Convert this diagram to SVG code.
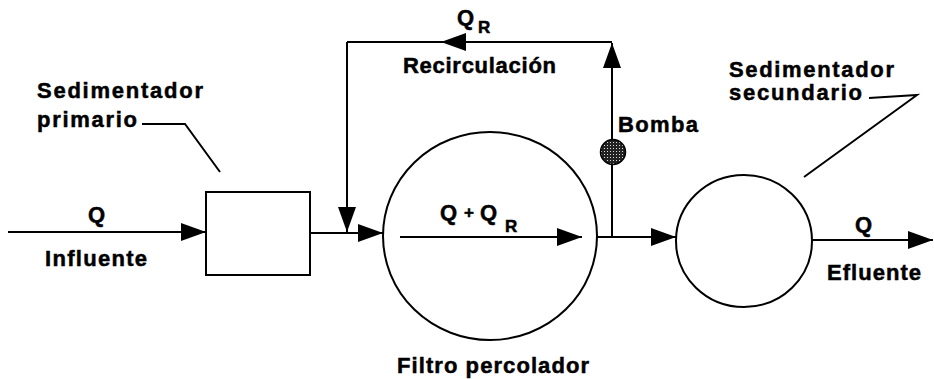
<svg xmlns="http://www.w3.org/2000/svg" width="934" height="379" viewBox="0 0 934 379">
<defs>
<style>
.ln{fill:none;stroke:#000;stroke-width:2}
.sh{fill:#fff;stroke:#000;stroke-width:2}
.t{font-family:"Liberation Sans",Arial,sans-serif;font-weight:bold;font-size:22px;fill:#000;stroke:#000;stroke-width:0.5}
.s{font-size:17px}
</style>
<marker id="ah" markerUnits="userSpaceOnUse" markerWidth="26" markerHeight="20" refX="25" refY="9" orient="auto">
<path d="M0,0 L25,9 L0,18 Z" fill="#000"/>
</marker>
<pattern id="dots" width="3" height="3" patternUnits="userSpaceOnUse">
<rect width="3" height="3" fill="#222"/>
<rect x="1" y="1" width="1" height="1" fill="#ddd"/>
</pattern>
</defs>
<rect width="934" height="379" fill="#fff"/>
<g id="connectors">
<line class="ln" x1="8" y1="232" x2="206" y2="232" marker-end="url(#ah)"/>
<line class="ln" x1="310" y1="233" x2="383" y2="233" marker-end="url(#ah)"/>
<line class="ln" x1="347" y1="42" x2="347" y2="232" marker-end="url(#ah)"/>
<line class="ln" x1="612" y1="42" x2="347" y2="42"/>
<line class="ln" x1="612" y1="42" x2="441" y2="42" marker-end="url(#ah)"/>
<line class="ln" x1="612" y1="237" x2="612" y2="43" marker-end="url(#ah)"/>
<line class="ln" x1="400" y1="237" x2="582" y2="237" marker-end="url(#ah)"/>
<line class="ln" x1="596" y1="237" x2="676" y2="237" marker-end="url(#ah)"/>
<line class="ln" x1="812" y1="240" x2="933" y2="240" marker-end="url(#ah)"/>
<polyline class="ln" points="142,124 185,124 220,172"/>
<polyline class="ln" points="869,98 917,95 804,177"/>
</g>
<g id="sedimentador-primario">
<rect class="sh" x="206" y="192" width="104" height="83"/>
<text class="t" x="37" y="98" textLength="166" lengthAdjust="spacing">Sedimentador</text>
<text class="t" x="37" y="127" textLength="100" lengthAdjust="spacing">primario</text>
</g>
<g id="filtro-percolador">
<ellipse class="ln" cx="490" cy="236" rx="107" ry="104"/>
<text class="t" x="397" y="373" textLength="192" lengthAdjust="spacing">Filtro percolador</text>
</g>
<g id="sedimentador-secundario">
<ellipse class="sh" cx="744" cy="241" rx="68" ry="66"/>
<text class="t" x="729" y="77" textLength="165" lengthAdjust="spacing">Sedimentador</text>
<text class="t" x="729" y="100" textLength="133" lengthAdjust="spacing">secundario</text>
</g>
<g id="bomba">
<circle cx="613" cy="152" r="12.5" fill="url(#dots)" stroke="#000" stroke-width="1.5"/>
<text class="t" x="618" y="132" textLength="80" lengthAdjust="spacing">Bomba</text>
</g>
<g id="labels">
<text class="t" x="88" y="222">Q</text>
<text class="t" x="45" y="266" textLength="102" lengthAdjust="spacing">Influente</text>
<text class="t" x="457" y="25">Q</text>
<text class="t s" x="478" y="33">R</text>
<text class="t" x="403" y="73" textLength="153" lengthAdjust="spacing">Recirculación</text>
<text class="t" x="440" y="220">Q</text>
<text class="t s" x="464" y="218">+</text>
<text class="t" x="480" y="220">Q</text>
<text class="t s" x="505" y="232">R</text>
<text class="t" x="855" y="232">Q</text>
<text class="t" x="827" y="280" textLength="94" lengthAdjust="spacing">Efluente</text>
</g>
</svg>
